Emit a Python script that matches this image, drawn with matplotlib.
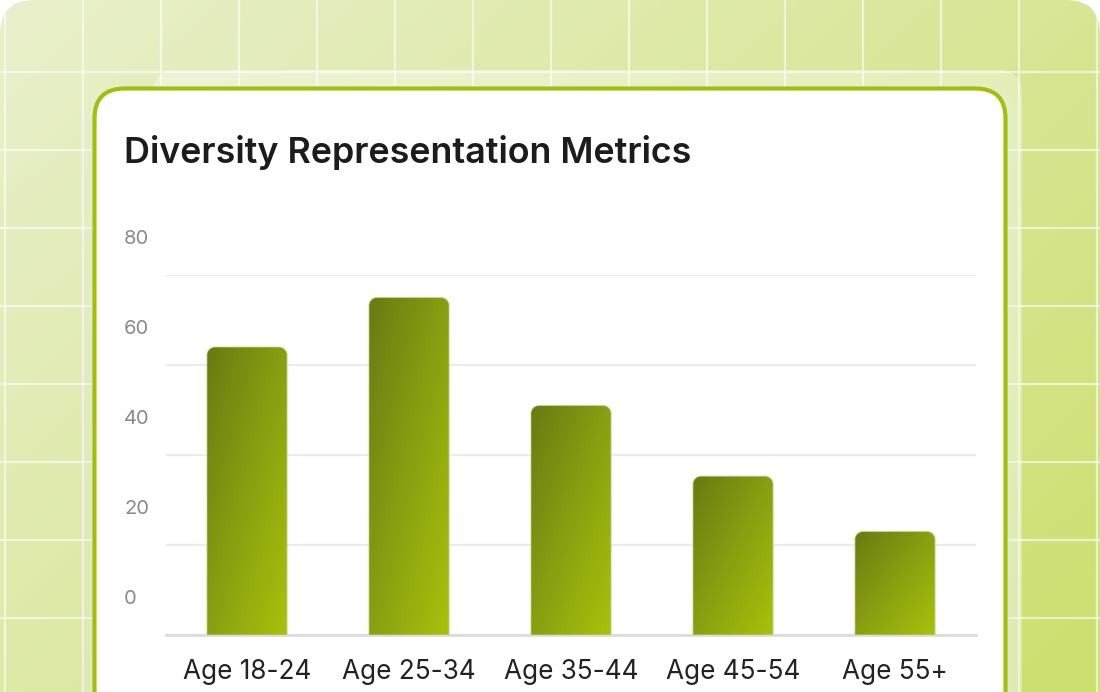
import numpy as np
import matplotlib
matplotlib.use("Agg")
import matplotlib.pyplot as plt
from matplotlib.patches import FancyBboxPatch, PathPatch
from matplotlib.path import Path
from matplotlib.colors import to_rgb, LinearSegmentedColormap
import matplotlib.transforms as mtransforms

# ---- data ----
categories = ["Age 18-24", "Age 25-34", "Age 35-44", "Age 45-54", "Age 55+"]
values = [64, 75, 51, 35.3, 23]
yticks = [0, 20, 40, 60, 80]
title = "Diversity Representation Metrics"

W, H, DPI = 1100, 692, 100
FONT = ["Inter", "DejaVu Sans"]
plt.rcParams["font.family"] = FONT

fig = plt.figure(figsize=(W / DPI, H / DPI), dpi=DPI)
fig.patch.set_facecolor("white")

# background axes in pixel coordinates
bg = fig.add_axes([0, 0, 1, 1])
bg.set_xlim(0, W)
bg.set_ylim(H, 0)
bg.axis("off")

# outer rounded background with diagonal gradient
outer = FancyBboxPatch((0, 0), W, H + 60, boxstyle="round,pad=0,rounding_size=34",
                       facecolor="none", edgecolor="none")
bg.add_patch(outer)
yy, xx = np.mgrid[0:1:200j, 0:1:300j]
t = (xx * 0.6 + yy * 0.4)
c0 = np.array(to_rgb("#e9f0cc"))
c1 = np.array(to_rgb("#cddf6e"))
img = c0[None, None, :] * (1 - t[..., None]) + c1[None, None, :] * t[..., None]
im = bg.imshow(img, extent=[0, W, H, 0], aspect="auto", zorder=0, interpolation="bilinear")
im.set_clip_path(outer)

# grid on background
for gx in np.arange(5, W + 1, 78):
    bg.plot([gx, gx], [0, H], color="white", alpha=0.6, lw=1.6, zorder=1)
for gy in np.arange(-6, H + 1, 78):
    bg.plot([0, W], [gy, gy], color="white", alpha=0.6, lw=1.6, zorder=1)
for l in bg.lines:
    l.set_clip_path(outer)

# back translucent card
back = FancyBboxPatch((153, 70), 1022 - 153, 700, boxstyle="round,pad=0,rounding_size=24",
                      facecolor="white", edgecolor="none", alpha=0.35, zorder=2)
bg.add_patch(back)

# soft glow around main card
for i, a in enumerate([0.10, 0.10, 0.10, 0.12, 0.14]):
    g = 14 - i * 3
    glow = FancyBboxPatch((94 - g, 88 - g * 0.3), 1006 - 94 + 2 * g, 700,
                          boxstyle="round,pad=0,rounding_size=%d" % (30 + g),
                          facecolor="#e6f2ea", edgecolor="none", alpha=a, zorder=2.5)
    bg.add_patch(glow)

# main card
card = FancyBboxPatch((94.5, 88.5), 1005.5 - 94.5, 700, boxstyle="round,pad=0,rounding_size=30",
                      facecolor="white", edgecolor="#a3bf0b", lw=3, zorder=3)
bg.add_patch(card)

bg.text(124, 153, title, fontsize=25.8, fontweight="semibold", color="#1c1c1c",
        ha="left", va="center", zorder=5)

# ---- chart axes ----
ax_l, ax_r, ax_t, ax_b = 166, 976, 275, 635
ax = fig.add_axes([ax_l / W, (H - ax_b) / H, (ax_r - ax_l) / W, (ax_b - ax_t) / H])
ax.set_facecolor("none")
ax.set_zorder(4)
x = np.arange(len(categories))
bars = ax.bar(x, values, width=0.495, color="none", edgecolor="none", zorder=3)
ax.set_xlim(-0.5, len(categories) - 0.5)
ax.set_ylim(0, 80)
ax.set_yticks(yticks)
ax.yaxis.grid(True, color="#ececec", lw=1.6)
ax.set_axisbelow(True)
for s in ["top", "right", "left"]:
    ax.spines[s].set_visible(False)
ax.spines["bottom"].set_color("#dcdcdc")
ax.spines["bottom"].set_linewidth(2)
ax.tick_params(axis="y", length=0, labelleft=False)
ax.tick_params(axis="x", length=0, pad=17.5, labelsize=18.8, labelcolor="#222222")
ax.set_xticks(x)
ax.set_xticklabels(categories)

# y labels offset above gridlines
trans = mtransforms.blended_transform_factory(bg.transData, ax.transData) + \
    mtransforms.ScaledTranslation(0, 36 / DPI, fig.dpi_scale_trans)
for v in yticks:
    ax.text(124, v, str(v), transform=trans, ha="left", va="center",
            fontsize=14.5, color="#8a8a8a", clip_on=False)

# gradient bars with rounded top corners
px_per_x = (ax_r - ax_l) / (len(categories))
px_per_y = (ax_b - ax_t) / 80.0
r_px = 8
rx, ry = r_px / px_per_x, r_px / px_per_y
k = 0.5523
cmap = LinearSegmentedColormap.from_list("g", ["#6a7a12", "#88a011", "#a8c20a"])
gy_, gx_ = np.mgrid[0:1:120j, 0:1:60j]
grad = (gx_ + gy_) / 2.0
for b in bars:
    x0 = b.get_x()
    x1 = x0 + b.get_width()
    h = b.get_height()
    verts = [(x0, 0), (x0, h - ry),
             (x0, h - ry + k * ry), (x0 + rx - k * rx, h), (x0 + rx, h),
             (x1 - rx, h),
             (x1 - rx + k * rx, h), (x1, h - ry + k * ry), (x1, h - ry),
             (x1, 0), (x0, 0)]
    codes = [Path.MOVETO, Path.LINETO,
             Path.CURVE4, Path.CURVE4, Path.CURVE4,
             Path.LINETO,
             Path.CURVE4, Path.CURVE4, Path.CURVE4,
             Path.LINETO, Path.CLOSEPOLY]
    p = PathPatch(Path(verts, codes), facecolor="none", edgecolor="#c9d88f",
                  lw=0.8, alpha=0.7, zorder=4)
    ax.add_patch(p)
    gi = ax.imshow(grad, cmap=cmap, extent=[x0, x1, 0, h], origin="upper",
                   aspect="auto", zorder=3.5, interpolation="bilinear")
    gi.set_clip_path(p)
ax.set_xlim(-0.5, len(categories) - 0.5)
ax.set_ylim(0, 80)

fig.savefig("out.png", dpi=DPI)
